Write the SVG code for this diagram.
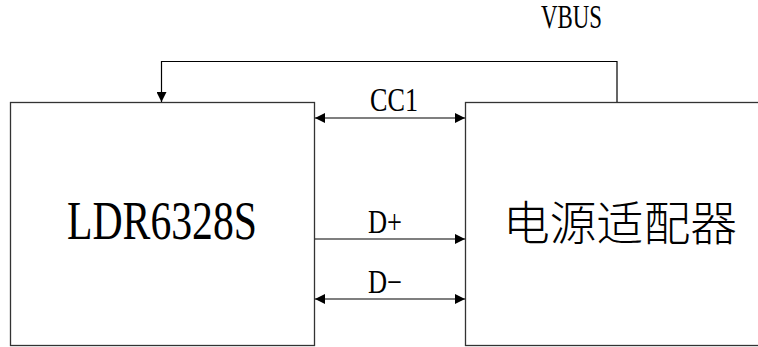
<svg xmlns="http://www.w3.org/2000/svg" width="758" height="347" viewBox="0 0 758 347">
<style>
.box{fill:#fff;stroke:#333;stroke-width:1.3}
.ln{fill:none;stroke:#000;stroke-width:1.2}
.lbl{font-family:"Liberation Serif","DejaVu Serif",serif;font-size:33px;fill:#000}
.big{font-family:"Liberation Serif","DejaVu Serif",serif;font-size:54px;fill:#000}
.cjk{font-family:"Noto Sans CJK SC",sans-serif;font-size:47px;font-weight:300;fill:#000}
</style>
<defs>
<marker id="ah" markerUnits="userSpaceOnUse" markerWidth="10" markerHeight="10" viewBox="0 0 10 10" refX="10" refY="5" orient="auto-start-reverse">
<path d="M0,0 L10,5 L0,10 Z" fill="#000"/>
</marker>
</defs>
<g id="ldr6328s">
<rect class="box" x="10.5" y="102.5" width="304" height="243"/>
<text class="big" x="162" y="239" text-anchor="middle" textLength="190" lengthAdjust="spacingAndGlyphs">LDR6328S</text>
</g>
<g id="adapter">
<rect class="box" x="465.5" y="102.5" width="310" height="243"/>
<text class="cjk" x="620" y="240" text-anchor="middle" textLength="234" lengthAdjust="spacingAndGlyphs">电源适配器</text>
</g>
<g id="connectors">
<polyline class="ln" points="617,102 617,61.5 161.5,61.5 161.5,102" marker-end="url(#ah)"/>
<line class="ln" x1="315" y1="118" x2="465" y2="118" marker-start="url(#ah)" marker-end="url(#ah)"/>
<line class="ln" x1="315" y1="239" x2="465" y2="239" marker-end="url(#ah)"/>
<line class="ln" x1="315" y1="299" x2="465" y2="299" marker-start="url(#ah)" marker-end="url(#ah)"/>
</g>
<g id="labels">
<text class="lbl" x="571.5" y="28" text-anchor="middle" textLength="61" lengthAdjust="spacingAndGlyphs">VBUS</text>
<text class="lbl" x="394" y="111" text-anchor="middle" textLength="48" lengthAdjust="spacingAndGlyphs">CC1</text>
<text class="lbl" x="385" y="233" text-anchor="middle" textLength="34" lengthAdjust="spacingAndGlyphs">D+</text>
<text class="lbl" x="385" y="293" text-anchor="middle" textLength="34" lengthAdjust="spacingAndGlyphs">D−</text>
</g>
</svg>
